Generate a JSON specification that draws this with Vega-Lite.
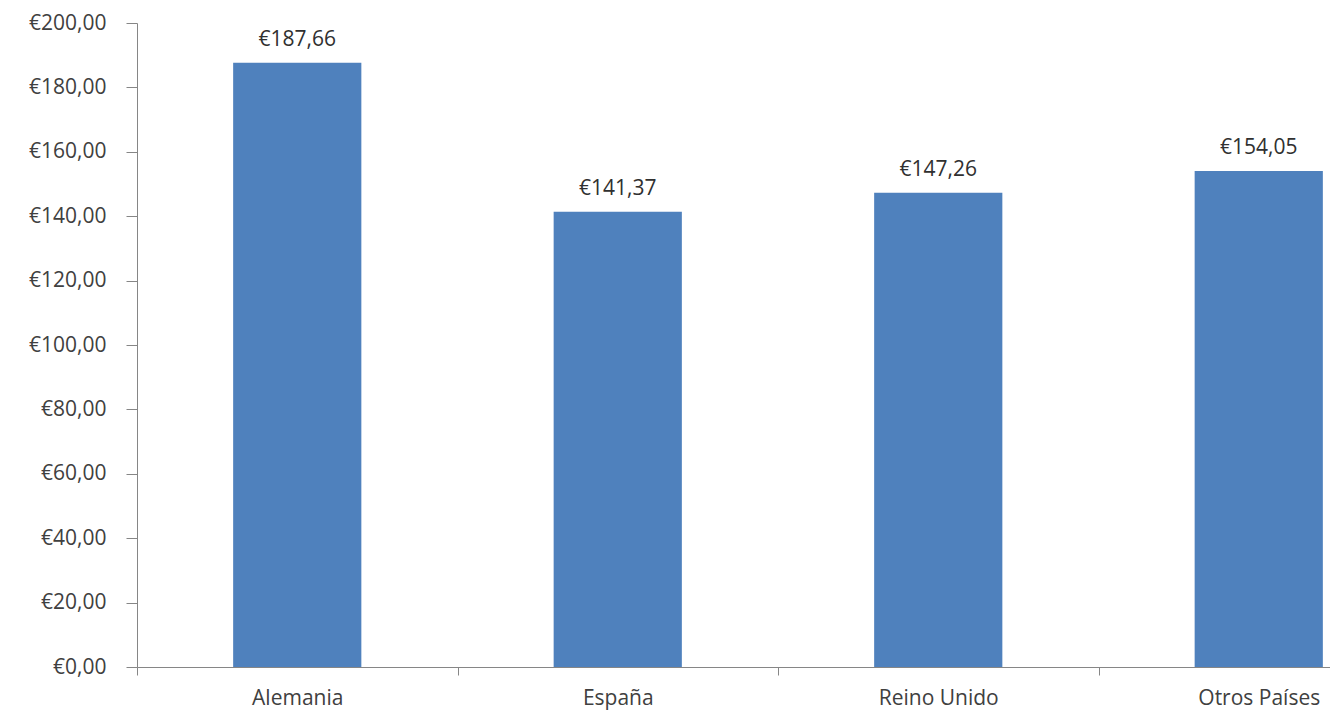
{
  "$schema": "https://vega.github.io/schema/vega-lite/v6.json",
  "width": 1193,
  "height": 644,
  "autosize": {"type": "none"},
  "padding": {"left": 137, "top": 23, "right": 0, "bottom": 47},
  "background": "white",
  "config": {
    "locale": {"number": {"decimal": ",", "thousands": ".", "grouping": [3], "currency": ["€", ""]}},
    "view": {"stroke": null},
    "font": "Open Sans"
  },
  "data": {
    "values": [
      {"pais": "Alemania", "valor": 187.66},
      {"pais": "España", "valor": 141.37},
      {"pais": "Reino Unido", "valor": 147.26},
      {"pais": "Otros Países", "valor": 154.05}
    ]
  },
  "encoding": {
    "x": {
      "field": "pais", "type": "nominal", "sort": null,
      "scale": {"range": [0, 1282], "paddingInner": 0, "paddingOuter": 0},
      "axis": {
        "title": null, "labelAngle": 0, "labelFontSize": 21, "labelColor": "#404040",
        "domainColor": "#868686", "tickColor": "#868686", "tickSize": 8, "tickBand": "extent",
        "labelPadding": 12, "domainWidth": 1, "labelFont": "Open Sans"
      }
    },
    "y": {
      "field": "valor", "type": "quantitative",
      "scale": {"domain": [0, 200], "nice": false},
      "axis": {
        "title": null, "values": [0, 20, 40, 60, 80, 100, 120, 140, 160, 180, 200],
        "format": "$.2f", "grid": false, "labelFontSize": 21, "labelColor": "#404040",
        "domainColor": "#868686", "tickColor": "#868686", "tickSize": 11, "labelPadding": 20,
        "labelFont": "Open Sans"
      }
    }
  },
  "layer": [
    {"mark": {"type": "bar", "color": "#4F81BD", "clip": true, "width": {"band": 0.4}}},
    {
      "mark": {"type": "text", "baseline": "alphabetic", "dy": -17, "fontSize": 21, "color": "#303030", "font": "Open Sans", "clip": true},
      "encoding": {"text": {"field": "valor", "type": "quantitative", "format": "$.2f"}}
    }
  ]
}
